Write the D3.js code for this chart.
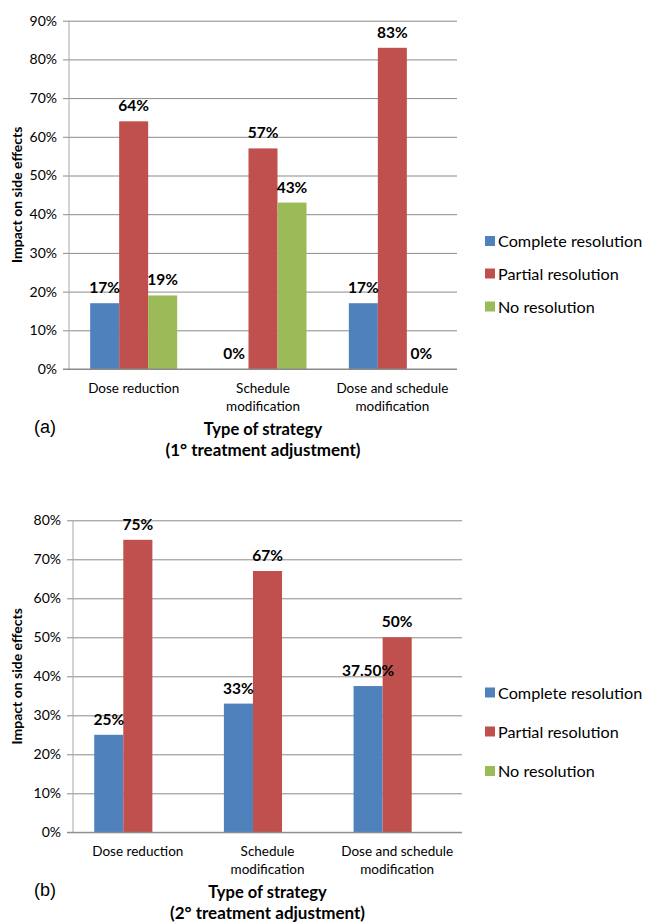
<!DOCTYPE html>
<html>
<head>
<meta charset="utf-8">
<script src="https://cdn.jsdelivr.net/npm/d3@7/dist/d3.min.js"></script>
<style>
  body { margin: 0; background: #fff; }
  svg { display: block; font-family: Lato, "Open Sans", sans-serif; }
</style>
</head>
<body>
<div id="chart"></div>
<script>
// categories and tick labels
const categories = ["Dose reduction", "Schedule modification", "Dose and schedule modification"];
const categoryLines = [["Dose reduction"], ["Schedule", "modification"], ["Dose and schedule", "modification"]];
const seriesNames = ["Complete resolution", "Partial resolution", "No resolution"];
const seriesColors = ["#4F81BD", "#C0504D", "#9BBB59"];

// (a) 1° treatment adjustment
const firstComplete = [17, 0, 17];
const firstPartial = [64, 57, 83];
const firstNone = [19, 43, 0];
const firstTicks = [0, 10, 20, 30, 40, 50, 60, 70, 80, 90];

// (b) 2° treatment adjustment (no "No resolution" values)
const secondComplete = [25, 33, 37.5];
const secondPartial = [75, 67, 50];
const secondNone = [null, null, null];
const secondTicks = [0, 10, 20, 30, 40, 50, 60, 70, 80];

const svg = d3.select('#chart')
  .append('svg')
  .attr('width', 646)
  .attr('height', 924);

const fmt = v => Number.isInteger(v) ? v + '%' : v.toFixed(2) + '%';

function drawChart(opts) {
  const { top, bottom, left, right, ticks, series, panel, subtitle, legendY } = opts;
  const g = svg.append('g');

  const x = d3.scaleBand()
    .domain(categories)
    .range([left, right]);

  const x1 = d3.scaleBand()
    .domain(seriesNames)
    .range([0, x.bandwidth()])
    .paddingOuter(0.73);

  const y = d3.scaleLinear()
    .domain([0, d3.max(ticks)])
    .range([bottom, top]);

  // gridlines + tick labels
  const axis = g.append('g')
    .attr('transform', `translate(${left},0)`)
    .call(d3.axisLeft(y)
      .tickValues(ticks)
      .tickFormat(d => d + '%')
      .tickSizeInner(-(right - left))
      .tickSizeOuter(0)
      .tickPadding(10));
  axis.select('.domain').remove();
  axis.selectAll('.tick line')
    .attr('x1', -6)
    .attr('stroke', '#8a8a8a');
  axis.selectAll('.tick text')
    .attr('x', -12)
    .style('font-family', 'Lato, sans-serif')
    .style('font-size', '14px')
    .attr('fill', '#000');

  // vertical axis line
  g.append('line')
    .attr('x1', left).attr('x2', left)
    .attr('y1', top).attr('y2', bottom)
    .attr('stroke', '#a6a6a6');

  const rows = [];
  series.forEach((vals, si) => {
    vals.forEach((v, ci) => {
      if (v !== null) rows.push({ s: seriesNames[si], c: categories[ci], v, color: seriesColors[si] });
    });
  });

  g.selectAll('.bar')
    .data(rows)
    .enter().append('rect')
    .attr('class', 'bar')
    .attr('x', d => x(d.c) + x1(d.s))
    .attr('width', x1.bandwidth())
    .attr('y', d => y(d.v))
    .attr('height', d => y(0) - y(d.v))
    .attr('fill', d => d.color);

  // 0% baseline
  g.append('line')
    .attr('x1', left - 6).attr('x2', right)
    .attr('y1', y(0)).attr('y2', y(0))
    .attr('stroke', '#8a8a8a');

  g.selectAll('.lbl')
    .data(rows)
    .enter().append('text')
    .attr('class', 'lbl')
    .attr('x', d => x(d.c) + x1(d.s) + x1.bandwidth() / 2)
    .attr('y', d => y(d.v) - 10)
    .attr('text-anchor', 'middle')
    .style('font-size', '15.5px')
    .style('font-weight', 'bold')
    .text(d => fmt(d.v));

  // category labels
  categories.forEach((c, i) => {
    const t = g.append('text')
      .attr('x', x(c) + x.bandwidth() / 2)
      .attr('y', bottom + 24)
      .attr('text-anchor', 'middle')
      .style('font-size', '13.5px');
    categoryLines[i].forEach((line, j) => {
      t.append('tspan')
        .attr('x', x(c) + x.bandwidth() / 2)
        .attr('dy', j === 0 ? 0 : 17.5)
        .text(line);
    });
  });

  // y title
  g.append('text')
    .attr('transform', `translate(22,${(top + bottom) / 2}) rotate(-90)`)
    .attr('text-anchor', 'middle')
    .style('font-size', '14px')
    .style('font-weight', 'bold')
    .text('Impact on side effects');

  // x title
  const midX = (left + right) / 2;
  g.append('text')
    .attr('x', midX).attr('y', bottom + 66)
    .attr('text-anchor', 'middle')
    .style('font-size', '16.5px')
    .style('font-weight', 'bold')
    .text('Type of strategy');
  g.append('text')
    .attr('x', midX).attr('y', bottom + 87)
    .attr('text-anchor', 'middle')
    .style('font-size', '17px')
    .style('font-weight', 'bold')
    .text(subtitle);

  // panel letter
  g.append('text')
    .attr('x', 34).attr('y', bottom + 64)
    .style('font-family', '"Liberation Sans", Arial, sans-serif')
    .style('font-size', '18px')
    .text(panel);

  // legend
  const leg = g.append('g')
    .selectAll('g')
    .data(seriesNames)
    .enter().append('g')
    .attr('transform', (d, i) => `translate(485,${legendY[i]})`);
  leg.append('rect')
    .attr('x', 0).attr('y', -5)
    .attr('width', 10).attr('height', 10)
    .attr('fill', (d, i) => seriesColors[i]);
  leg.append('text')
    .attr('x', 13).attr('y', 6)
    .style('font-size', '16.2px')
    .text(d => d);
}

drawChart({
  top: 20.7, bottom: 369, left: 69, right: 457,
  ticks: firstTicks,
  series: [firstComplete, firstPartial, firstNone],
  panel: '(a)',
  subtitle: '(1° treatment adjustment)',
  legendY: [241, 273.5, 306.5]
});

drawChart({
  top: 520.3, bottom: 832.3, left: 73, right: 462,
  ticks: secondTicks,
  series: [secondComplete, secondPartial, secondNone],
  panel: '(b)',
  subtitle: '(2° treatment adjustment)',
  legendY: [692.5, 731.5, 771]
});
</script>
</body>
</html>
